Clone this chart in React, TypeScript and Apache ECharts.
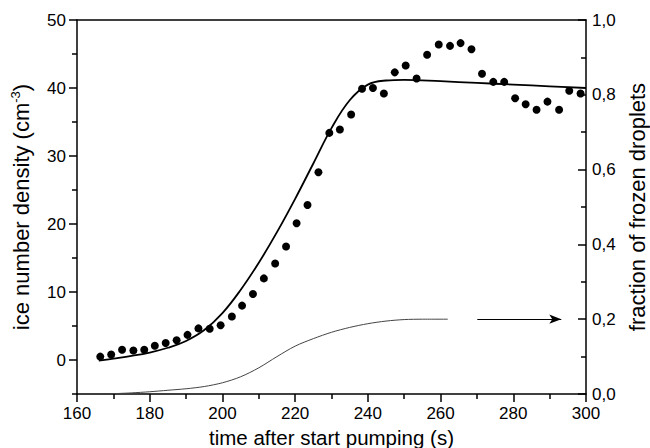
import React, { useEffect, useRef } from "react";
import * as echarts from "echarts";

// measured ice number density (dots)
const scatterTime = [
  166.4, 169.4, 172.4, 175.5, 178.5, 181.4, 184.4, 187.4, 190.4, 193.4,
  196.5, 199.5, 202.6, 205.4, 208.4, 211.4, 214.5, 217.5, 220.4, 223.4,
  226.4, 229.4, 232.3, 235.4, 238.4, 241.4, 244.4, 247.4, 250.4, 253.4,
  256.3, 259.5, 262.6, 265.5, 268.5, 271.4, 274.5, 277.5, 280.5, 283.4,
  286.4, 289.4, 292.6, 295.4, 298.5,
];
const iceDensity = [
  0.5, 0.8, 1.5, 1.4, 1.5, 2.1, 2.5, 2.9, 3.7, 4.65,
  4.6, 5.1, 6.4, 8.0, 9.7, 12.0, 14.2, 16.7, 20.1, 22.8,
  27.6, 33.4, 33.9, 36.1, 39.9, 40.0, 39.2, 42.3, 43.3, 41.4,
  44.9, 46.4, 46.2, 46.6, 45.7, 42.1, 40.9, 40.9, 38.5, 37.6,
  36.8, 38.0, 36.8, 39.6, 39.2,
];

// model curve (thick black line, left axis)
const fitTime = [
  166, 170, 175, 180, 185, 190, 195, 200, 205, 210, 215, 220,
  225, 230, 235, 240, 245, 250, 260, 270, 280, 290, 300,
];
const fitDensity = [
  -0.1, 0.2, 0.6, 1.1, 1.8, 2.8, 4.4, 6.9, 10.3, 14.3, 18.8, 23.7,
  28.9, 34.1, 38.2, 40.5, 41.1, 41.2, 41.0, 40.75, 40.5, 40.25, 40.0,
];

// fraction of frozen droplets (thin grey line, right axis)
const fracTime = [
  168, 175, 180, 185, 190, 195, 200, 205, 210, 215, 220, 225, 230,
  235, 240, 245, 250, 255, 262,
];
const frozenFraction = [
  0.0, 0.003, 0.006, 0.01, 0.014, 0.02, 0.03, 0.046, 0.07, 0.1, 0.128,
  0.148, 0.165, 0.178, 0.188, 0.195, 0.199, 0.2, 0.2,
];

const leftMajorTicks = [0, 10, 20, 30, 40, 50];
const leftMinorTicks = [-5, 5, 15, 25, 35, 45];
const arrowFrom = [270.1, 0.2];
const arrowTo = [293.2, 0.2];

const zip = (a: number[], b: number[]) => a.map((v, i) => [v, b[i]]);

export default function App() {
  const ref = useRef<HTMLDivElement>(null);
  useEffect(() => {
    const chart = echarts.init(ref.current!, null, { renderer: "svg" });
    const font = "'Liberation Sans', Arial, Helvetica, sans-serif";
    const ls = { color: "#000", width: 1.5 };
    const lbl = { color: "#000", fontSize: 17, fontFamily: font };
    const xNameStyle = { color: "#000", fontSize: 20.5, fontFamily: font };
    const yNameStyle = { color: "#000", fontSize: 22, fontFamily: font };
    chart.setOption({
      animation: false,
      backgroundColor: "#fff",
      textStyle: { fontFamily: font },
      grid: {
        left: 77,
        right: 64,
        top: 20,
        bottom: 54,
        containLabel: false,
        outerBoundsMode: "none",
      },
      xAxis: [
        {
          type: "value",
          position: "bottom",
          min: 160,
          max: 300,
          interval: 20,
          axisLine: { show: true, onZero: false, lineStyle: ls },
          axisTick: { show: true, inside: false, length: 8, lineStyle: ls },
          minorTick: { show: true, splitNumber: 2, length: 5, lineStyle: ls },
          splitLine: { show: false },
          minorSplitLine: { show: false },
          axisLabel: { ...lbl, margin: 11 },
          name: "time after start pumping (s)",
          nameLocation: "middle",
          nameGap: 28,
          nameTextStyle: xNameStyle,
        },
        {
          type: "value",
          position: "top",
          min: 160,
          max: 300,
          axisLine: { show: true, onZero: false, lineStyle: ls },
          axisTick: { show: false },
          axisLabel: { show: false },
          splitLine: { show: false },
        },
      ],
      yAxis: [
        {
          type: "value",
          position: "left",
          min: -5,
          max: 50,
          axisLine: { show: true, onZero: false, lineStyle: ls },
          axisTick: {
            show: true,
            inside: false,
            length: 8,
            customValues: leftMajorTicks,
            lineStyle: ls,
          },
          axisLabel: { ...lbl, margin: 11, customValues: leftMajorTicks },
          splitLine: { show: false },
          name: "ice number density (cm{sup|-3})",
          nameLocation: "middle",
          nameGap: 44,
          nameRotate: 90,
          nameTextStyle: {
            ...yNameStyle,
            lineHeight: 24,
            rich: {
              sup: {
                fontSize: 13,
                color: "#000",
                fontFamily: font,
                verticalAlign: "top",
                lineHeight: 24,
              },
            },
          },
        },
        {
          type: "value",
          position: "right",
          min: 0,
          max: 1,
          interval: 0.2,
          axisLine: { show: true, onZero: false, lineStyle: ls },
          axisTick: { show: true, inside: true, length: 8, lineStyle: ls },
          minorTick: { show: true, splitNumber: 2, length: 5, lineStyle: ls },
          splitLine: { show: false },
          minorSplitLine: { show: false },
          axisLabel: {
            ...lbl,
            margin: 6,
            formatter: (v: number) => v.toFixed(1).replace(".", ","),
          },
          name: "fraction of frozen droplets",
          nameLocation: "middle",
          nameGap: 39,
          nameRotate: 90,
          nameTextStyle: yNameStyle,
        },
        {
          type: "value",
          position: "left",
          min: -5,
          max: 50,
          axisLine: { show: false },
          axisTick: {
            show: true,
            inside: false,
            length: 5,
            customValues: leftMinorTicks,
            lineStyle: ls,
          },
          axisLabel: { show: false, customValues: leftMinorTicks },
          splitLine: { show: false },
        },
      ],
      series: [
        {
          type: "line",
          xAxisIndex: 0,
          yAxisIndex: 0,
          data: zip(fitTime, fitDensity),
          showSymbol: false,
          smooth: 0.4,
          silent: true,
          lineStyle: { color: "#000", width: 1.8 },
        },
        {
          type: "line",
          xAxisIndex: 0,
          yAxisIndex: 1,
          data: zip(fracTime, frozenFraction),
          showSymbol: false,
          smooth: 0.3,
          silent: true,
          lineStyle: { color: "#444", width: 1 },
          markLine: {
            silent: true,
            symbol: ["none", "arrow"],
            symbolSize: [7, 12],
            label: { show: false },
            lineStyle: { color: "#000", width: 1.2, type: "solid" },
            data: [[{ coord: arrowFrom }, { coord: arrowTo }]],
          },
        },
        {
          type: "scatter",
          xAxisIndex: 0,
          yAxisIndex: 0,
          data: zip(scatterTime, iceDensity),
          symbol: "circle",
          symbolSize: 8,
          silent: true,
          itemStyle: { color: "#000", opacity: 1 },
        },
      ],
    });
    return () => chart.dispose();
  }, []);
  return (
    <div
      ref={ref}
      style={{ position: "fixed", left: 0, top: 0, width: 650, height: 448 }}
    />
  );
}
